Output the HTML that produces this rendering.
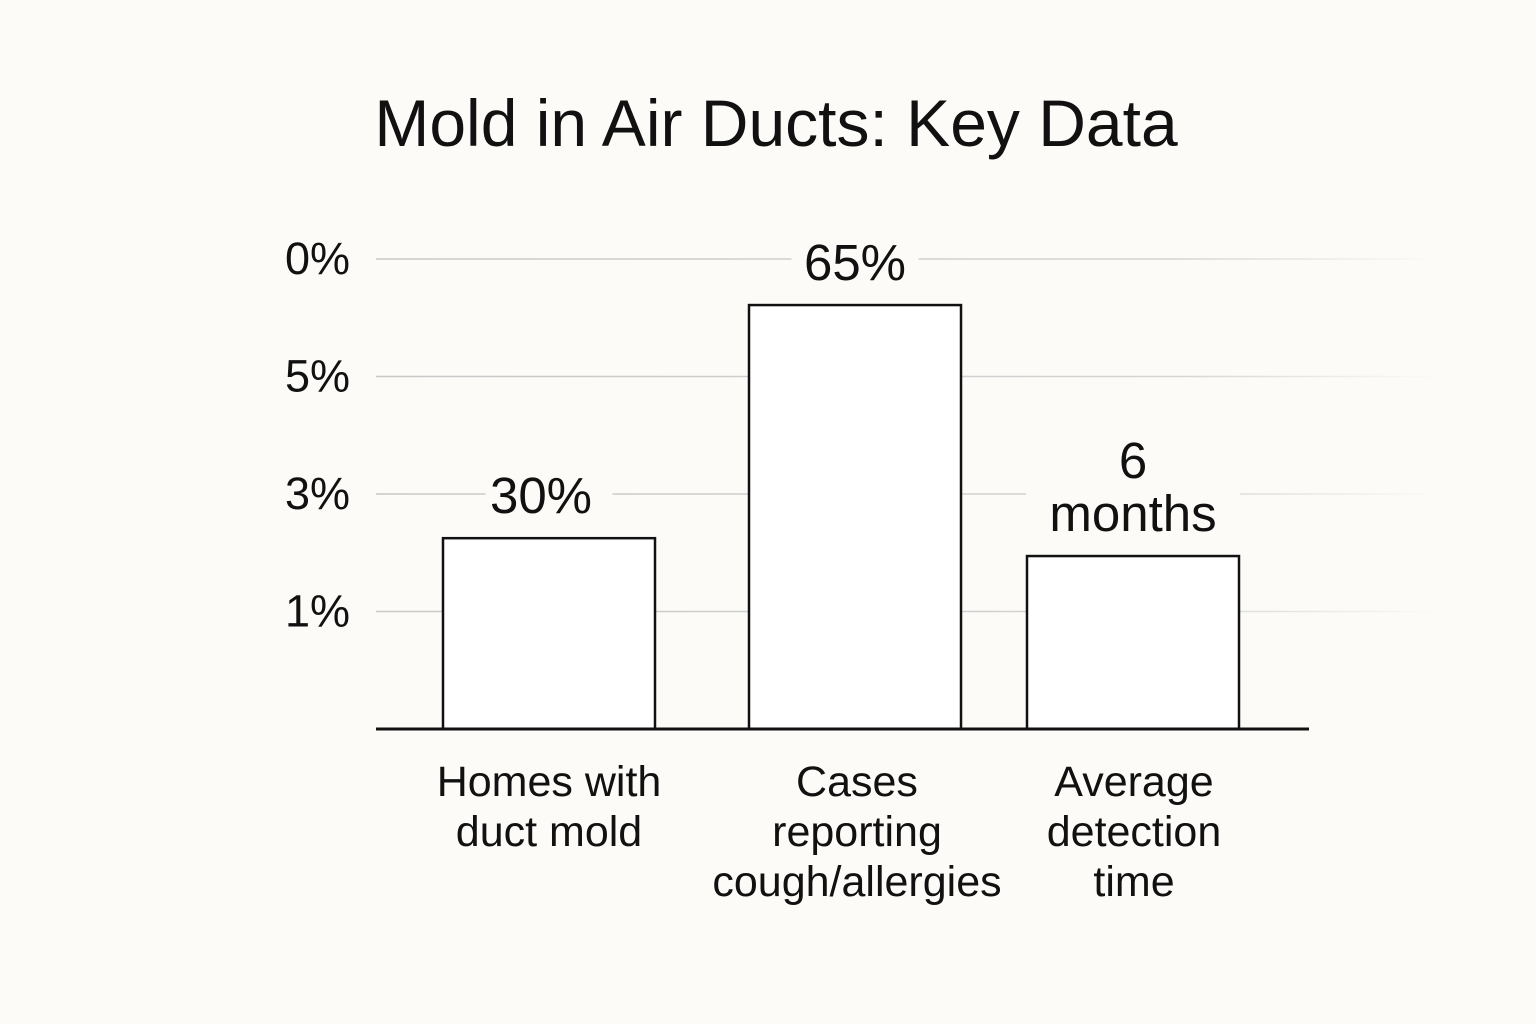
<!DOCTYPE html>
<html><head><meta charset="utf-8">
<style>
html,body{margin:0;padding:0;background:#fcfbf7;}
svg{display:block;font-family:"Liberation Sans","DejaVu Sans",sans-serif;}
</style></head>
<body>
<svg id="chart" width="1536" height="1024" viewBox="0 0 1536 1024">
<defs>
<linearGradient id="gridfade" x1="376" y1="0" x2="1440" y2="0" gradientUnits="userSpaceOnUse">
<stop offset="0" stop-color="#c8c8c8"/><stop offset="0.75" stop-color="#d4d4d4"/><stop offset="1" stop-color="#fcfbf7"/>
</linearGradient>
</defs>
<rect width="1536" height="1024" fill="#fcfbf7"/>
<text x="776" y="146" text-anchor="middle" font-size="66" fill="#111">Mold in Air Ducts: Key Data</text>
<g id="grid"></g>
<g id="bars"></g>
<g id="labels"></g>
</svg>
<script>
const categories = [["Homes with","duct mold"],["Cases","reporting","cough/allergies"],["Average","detection","time"]];
const barValues = [40.6, 90.2, 36.8];
const valueLabels = [["30%"],["65%"],["6","months"]];
const tickValues = [100, 75, 50, 25];
const tickLabels = ["0%","5%","3%","1%"];

const NS="http://www.w3.org/2000/svg";
const baseY=729, topY=259, yMax=100;
function yScale(v){return baseY-(v/yMax)*(baseY-topY);}
const bandStart=443, bandStep=292, barW=212;
const barXs=[443,749,1027];
function xScale(i){return barXs[i]!==undefined?barXs[i]:bandStart+i*bandStep;}
function mk(tag,attrs,parent){const e=document.createElementNS(NS,tag);for(const k in attrs)e.setAttribute(k,attrs[k]);parent.appendChild(e);return e;}

const grid=document.getElementById('grid'), bars=document.getElementById('bars'), labels=document.getElementById('labels');
tickValues.forEach((v,i)=>{
  const y=yScale(v);
  const l=mk('line',{x1:376,x2:1440,y1:y,y2:y,stroke:'url(#gridfade)','stroke-width':1.5},grid);
  
  
  const t=mk('text',{x:350,y:y+15,'text-anchor':'end','font-size':45,fill:'#111'},grid);
  t.textContent=tickLabels[i];
  
  
});
barValues.forEach((v,i)=>{
  const x=xScale(i), y=yScale(v);
  const r=mk('rect',{x:x,y:y,width:barW,height:baseY-y,fill:'#ffffff',stroke:'#111','stroke-width':2.5},bars);
  
  
  const lines=valueLabels[i], cx=x+barW/2;
  const n=lines.length, lh=53;
  const bottom=y-22;
  const bgW=Math.max(...lines.map(s=>s.length))*29+40;
  const bg=mk('rect',{x:cx-bgW/2,y:bottom-n*lh-4,width:bgW,height:n*lh+8,fill:'#fcfbf7'},labels);
  
  
  lines.forEach((s,j)=>{
    const t=mk('text',{x:cx-(i==0?8:0),y:bottom-(n-1-j)*lh-3,'text-anchor':'middle','font-size':51,fill:'#111'},labels);
    t.textContent=s;
    
    
  });
  categories[i].forEach((s,j)=>{
    const t=mk('text',{x:cx+(i==0?0:i==2?1:2),y:796+j*50,'text-anchor':'middle','font-size':43,fill:'#111'},labels);
    t.textContent=s;
    
    
  });
});
const ax=mk('line',{x1:376,x2:1309,y1:baseY,y2:baseY,stroke:'#111','stroke-width':3},bars);


</script>
</body></html>
